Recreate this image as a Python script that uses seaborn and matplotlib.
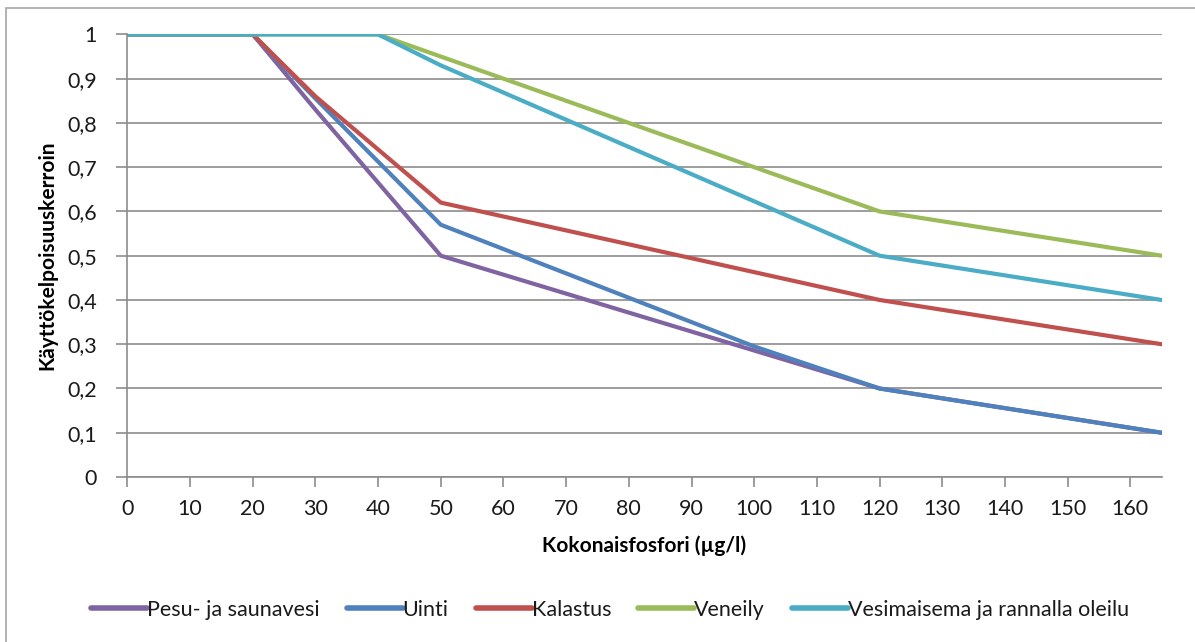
import matplotlib
matplotlib.use("Agg")
import matplotlib.pyplot as plt
import matplotlib.patches as mpatches
import seaborn as sns
import pandas as pd

# ---- data ----
series_names = ["Pesu- ja saunavesi", "Uinti", "Kalastus", "Veneily",
                "Vesimaisema ja rannalla oleilu"]
pesu_x = [0, 20, 30, 50, 120, 165]
pesu_y = [1.0, 1.0, 0.83, 0.50, 0.20, 0.10]
uinti_x = [0, 20, 30, 50, 100, 120, 165]
uinti_y = [1.0, 1.0, 0.855, 0.57, 0.295, 0.20, 0.10]
kalastus_x = [0, 20, 30, 50, 120, 165]
kalastus_y = [1.0, 1.0, 0.86, 0.62, 0.40, 0.30]
veneily_x = [0, 40, 50, 120, 165]
veneily_y = [1.0, 1.0, 0.95, 0.60, 0.50]
vesi_x = [0, 40, 50, 120, 165]
vesi_y = [1.0, 1.0, 0.93, 0.50, 0.40]

x_ticks = [0, 10, 20, 30, 40, 50, 60, 70, 80, 90, 100, 110, 120, 130, 140, 150, 160]
y_ticks = [0, 0.1, 0.2, 0.3, 0.4, 0.5, 0.6, 0.7, 0.8, 0.9, 1.0]
y_tick_labels = ["0", "0,1", "0,2", "0,3", "0,4", "0,5", "0,6", "0,7", "0,8", "0,9", "1"]
x_label = "Kokonaisfosfori (µg/l)"
y_label = "Käyttökelpoisuuskerroin"
colors = ["#8064A2", "#4F81BD", "#C0504D", "#9BBB59", "#4BACC6"]

xs = [pesu_x, uinti_x, kalastus_x, veneily_x, vesi_x]
ys = [pesu_y, uinti_y, kalastus_y, veneily_y, vesi_y]
rows = []
for name, xx, yy in zip(series_names, xs, ys):
    for i, (a, b) in enumerate(zip(xx, yy)):
        rows.append({"x": a, "y": b, "series": name, "order": i})
df = pd.DataFrame(rows)

# ---- style ----
sns.set_theme(style="white")
plt.rcParams["font.family"] = ["Lato", "DejaVu Sans"]
text_color = "#1a1a1a"

fig = plt.figure(figsize=(11.95, 6.42), dpi=100)
ax = fig.add_axes([0.1066, 0.257, 0.8655, 0.6894])

# outer chart border
fig.patches.append(mpatches.Rectangle((6 / 1195, -0.05), 1.2, 1 - 8 / 642 + 0.05,
                                      transform=fig.transFigure, fill=False,
                                      edgecolor="#a6a6a6", linewidth=1.2))

sns.lineplot(data=df, x="x", y="y", hue="series", hue_order=series_names,
             palette=colors, sort=False, units="series", estimator=None,
             linewidth=3.0, ax=ax, legend=True)

ax.set_xlim(0, 165)
ax.set_ylim(0, 1.0)
ax.set_xticks(x_ticks)
ax.set_xticklabels([str(t) for t in x_ticks])
ax.set_yticks(y_ticks)
ax.set_yticklabels(y_tick_labels)

ax.yaxis.grid(True, color="#8c8c8c", linewidth=1.2)
ax.xaxis.grid(False)
ax.set_axisbelow(True)
for s in ["top", "right"]:
    ax.spines[s].set_visible(False)
for s in ["left", "bottom"]:
    ax.spines[s].set_color("#8c8c8c")
    ax.spines[s].set_linewidth(1.2)

ax.tick_params(axis="x", which="major", direction="out", length=7, width=1.2,
               color="#8c8c8c", labelsize=15.5, labelcolor=text_color, pad=9, bottom=True)
ax.tick_params(axis="y", which="major", direction="out", length=8, width=1.2,
               color="#8c8c8c", labelsize=15.5, labelcolor=text_color, pad=14, left=True)

ax.set_xlabel(x_label, fontsize=15, fontweight="bold", color="black", labelpad=12)
ax.set_ylabel(y_label, fontsize=15, fontweight="bold", color="black", labelpad=7)

handles, labels = ax.get_legend_handles_labels()
ax.legend(handles=handles, labels=labels, loc="center",
          bbox_to_anchor=(610 / 1195, 1 - 610 / 642), bbox_transform=fig.transFigure,
          ncol=5, frameon=False, fontsize=15.5, handlelength=2.6, handletextpad=0.0,
          columnspacing=1.25, labelcolor=text_color)
for line in ax.get_legend().get_lines():
    line.set_linewidth(4)

fig.savefig("out.png", dpi=100)
